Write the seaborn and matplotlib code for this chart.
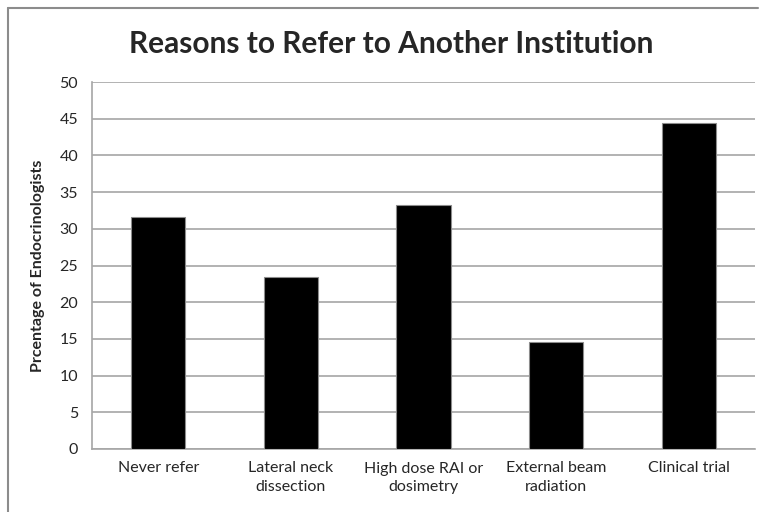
import pandas as pd
import matplotlib.pyplot as plt
import matplotlib.lines as mlines
import seaborn as sns

categories = ['Never refer', 'Lateral neck\ndissection', 'High dose RAI or\ndosimetry',
              'External beam\nradiation', 'Clinical trial']
percentages = [31.6, 23.5, 33.3, 14.6, 44.4]

df = pd.DataFrame({'Reason': categories, 'Percentage': percentages})

sns.set_style('white')
plt.rcParams['font.family'] = ['Lato', 'DejaVu Sans']

fig = plt.figure(figsize=(7.6, 5.12), dpi=100)
# chart area border (left and top edges visible in the original crop)
x0, y0 = 8 / 760, 1 - 8 / 512
fig.lines.append(mlines.Line2D([x0, x0], [0, y0], transform=fig.transFigure,
                               color='#8c8c8c', linewidth=1.5))
fig.lines.append(mlines.Line2D([x0, 758 / 760], [y0, y0], transform=fig.transFigure,
                               color='#8c8c8c', linewidth=1.5))

ax = fig.add_axes([92 / 760, 63 / 512, 663 / 760, 367 / 512])

sns.barplot(data=df, x='Reason', y='Percentage', color='black', width=0.41,
            saturation=1, edgecolor='#8c8c8c', linewidth=0.8, ax=ax, zorder=3)

ax.set_ylim(0, 50)
ax.set_yticks(range(0, 51, 5))
ax.grid(axis='y', color='#a6a6a6', linewidth=1.2, zorder=0)
ax.set_axisbelow(True)
for side in ['top', 'right']:
    ax.spines[side].set_visible(False)
ax.spines['left'].set_color('#a6a6a6')
ax.spines['bottom'].set_color('#a6a6a6')
ax.spines['left'].set_linewidth(1.2)
ax.spines['bottom'].set_linewidth(1.2)
ax.tick_params(axis='y', length=5, color='#a6a6a6', width=1.2, labelsize=11.5, pad=5)
ax.tick_params(axis='x', length=0, labelsize=11.5, pad=9)
for lbl in ax.get_xticklabels():
    lbl.set_linespacing(1.45)

ax.set_xlabel('')
ax.set_ylabel('Prcentage of Endocrinologists', fontsize=11.5, fontweight='bold', labelpad=10)
fig.text(0.515, 0.915, 'Reasons to Refer to Another Institution', ha='center', va='center',
         fontsize=21.5, fontweight='bold')

plt.savefig('out.png', dpi=100)
